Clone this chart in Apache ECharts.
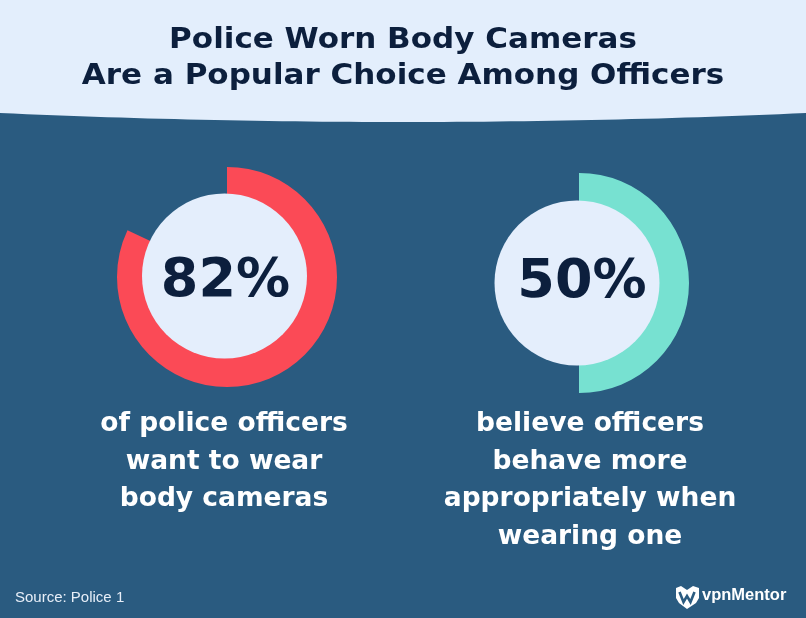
<!DOCTYPE html>
<html>
<head>
<meta charset="utf-8">
<script src="https://cdn.jsdelivr.net/npm/echarts@6/dist/echarts.min.js"></script>
<style>
html,body{margin:0;padding:0;background:#2a5b80;}
#chart{width:806px;height:618px;}
</style>
</head>
<body>
<div id="chart"></div>
<script>
// ---- data ----
const titleLines = ['Police Worn Body Cameras', 'Are a Popular Choice Among Officers'];
const values = [82, 50];
const captions = [
  'of police officers\nwant to wear\nbody cameras',
  'believe officers\nbehave more\nappropriately when\nwearing one'
];
const sourceText = 'Source: Police 1';
const brandText = 'vpnMentor';

// ---- layout / style ----
const ringCenters = [[227, 277], [579, 283]];
const innerCenters = [[224.5, 276], [577, 283]];
const ringColors = ['#fb4a56', '#77e1d1'];
const labelOffsets = [[1, 6], [5, 0]];
const captionX = [224, 590];
const navy = '#0c1f3d';
const bodyFont = '"DejaVu Sans", sans-serif';

const chart = echarts.init(document.getElementById('chart'), null, {renderer: 'canvas'});

const series = [];
// rings (value arc + transparent remainder)
values.forEach((v, i) => {
  series.push({
    type: 'pie',
    silent: true,
    z: 1,
    center: ringCenters[i],
    radius: [70, 110],
    startAngle: 90,
    clockwise: true,
    avoidLabelOverlap: false,
    emphasis: {disabled: true},
    label: {show: false},
    labelLine: {show: false},
    itemStyle: {borderWidth: 0},
    data: [
      {value: v, name: 'yes', itemStyle: {color: ringColors[i]}},
      {value: 100 - v, name: 'rest', itemStyle: {color: 'rgba(0,0,0,0)'}}
    ]
  });
});
// inner discs carrying the percentage label
values.forEach((v, i) => {
  series.push({
    type: 'pie',
    silent: true,
    z: 2,
    center: innerCenters[i],
    radius: [0, 82.5],
    startAngle: 90,
    avoidLabelOverlap: false,
    labelLine: {show: false},
    itemStyle: {color: '#e4eefc', borderWidth: 0},
    emphasis: {disabled: true},
    label: {
      show: true, position: 'center',
      formatter: '{c}%',
      offset: labelOffsets[i],
      fontFamily: bodyFont, fontWeight: 'bold', fontSize: 54, color: navy
    },
    data: [{value: v, name: 'pct'}]
  });
});

// header band with a gently curved lower edge (decoration)
const bandPts = [[0, 0], [806, 0]];
for (let k = 0; k <= 60; k++) {
  const t = 1 - k / 60;
  bandPts.push([806 * t, 113 + 36 * t * (1 - t)]);
}

const graphic = [
  {
    type: 'polygon', z: 0, silent: true,
    shape: {points: bandPts},
    style: {fill: '#e3eefc'}
  },
  {
    type: 'text', z: 5, x: 403, y: 41, scaleY: 0.9, silent: true,
    style: {text: titleLines[0], fill: navy, font: 'bold 31px ' + bodyFont, textAlign: 'center', textVerticalAlign: 'middle'}
  },
  {
    type: 'text', z: 5, x: 403, y: 76.7, scaleY: 0.9, silent: true,
    style: {text: titleLines[1], fill: navy, font: 'bold 31px ' + bodyFont, textAlign: 'center', textVerticalAlign: 'middle'}
  },
  {
    type: 'text', z: 5, x: 15, y: 598, silent: true,
    style: {text: sourceText, fill: '#e8eff8', font: '15px "Liberation Sans", Arial, sans-serif', textAlign: 'left', textVerticalAlign: 'middle'}
  },
  {
    type: 'text', z: 5, x: 702, y: 595, silent: true,
    style: {text: brandText, fill: '#ffffff', font: 'bold 16.5px "Liberation Sans", Arial, sans-serif', textAlign: 'left', textVerticalAlign: 'middle'}
  },
  {
    type: 'polygon', z: 5, silent: true,
    shape: {points: [[676, 588], [681, 586], [687, 590], [693, 586], [699, 588], [699, 598], [696, 603], [687, 609], [679, 603], [676, 598]]},
    style: {fill: '#ffffff'}
  },
  {
    type: 'polyline', z: 6, silent: true,
    shape: {points: [[679.5, 592], [683.5, 602], [687, 596], [690.5, 602], [694.5, 592]]},
    style: {stroke: '#2a5b80', lineWidth: 2.6, fill: null}
  }
];
captions.forEach((c, i) => {
  graphic.push({
    type: 'text', z: 5, x: captionX[i], y: 405.3, silent: true,
    style: {text: c, fill: '#ffffff', font: 'bold 26.5px ' + bodyFont, lineHeight: 37.6, textAlign: 'center', textVerticalAlign: 'top'}
  });
});

chart.setOption({
  backgroundColor: '#2a5b80',
  animation: false,
  series: series,
  graphic: graphic
});
</script>
</body>
</html>
